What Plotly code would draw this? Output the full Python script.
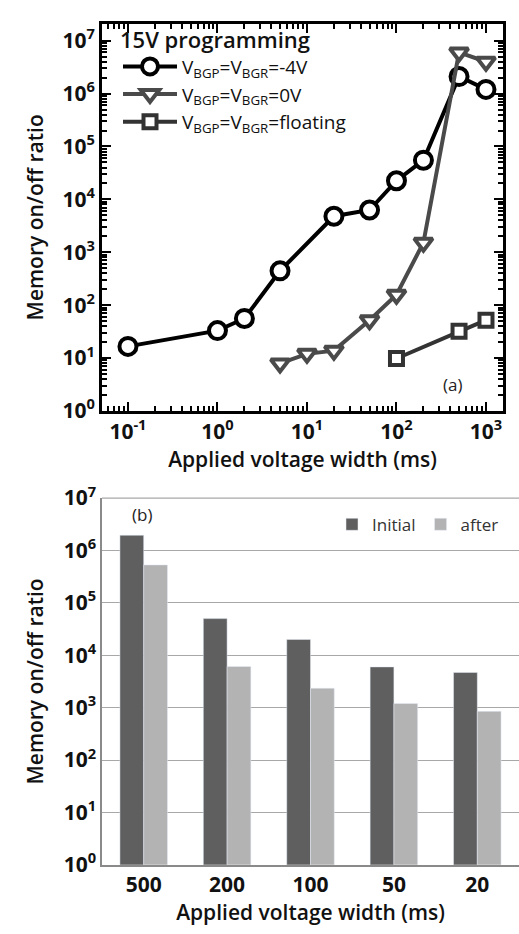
import plotly.graph_objects as go

# ---- data: panel (a)
x_m4 = [0.1, 1, 2, 5, 20, 50, 100, 200, 500, 1000]
y_m4 = [16.6, 33, 56, 445, 4800, 6300, 22500, 55000, 2.1e6, 1.2e6]
x_0v = [5, 10, 20, 50, 100, 200, 500, 1000]
y_0v = [7.9, 12, 13.8, 52, 157, 1520, 6.0e6, 4.0e6]
x_fl = [100, 500, 1000]
y_fl = [9.8, 32, 52]
names_a = ["V<sub>BGP</sub>=V<sub>BGR</sub>=-4V",
           "V<sub>BGP</sub>=V<sub>BGR</sub>=0V",
           "V<sub>BGP</sub>=V<sub>BGR</sub>=floating"]

# ---- data: panel (b)
widths_b = ["500", "200", "100", "50", "20"]
initial_b = [1.95e6, 5.0e4, 2.0e4, 6.0e3, 4.7e3]
after_b = [5.3e5, 6.1e3, 2.35e3, 1.2e3, 8.5e2]

# ticks
xa_tickvals = [0.1, 1, 10, 100, 1000]
xa_ticktext = ["10<sup>%s</sup>" % e for e in ["-1", "0", "1", "2", "3"]]
y_tickvals = [1, 10, 100, 1e3, 1e4, 1e5, 1e6, 1e7]
y_ticktext = ["10<sup>%d</sup>" % i for i in range(8)]

FONT = "Open Sans"
W, H = 519, 934

xa_minor = [m * 10 ** e for e in range(-2, 4) for m in range(2, 10)]
ya_minor = [m * 10 ** e for e in range(0, 8) for m in range(2, 10)]

fig = go.Figure()

fig.add_trace(go.Scatter(
    x=x_m4, y=y_m4, name=names_a[0], mode="lines+markers",
    line=dict(color="#000000", width=4),
    marker=dict(symbol="circle", size=17, color="white",
                line=dict(color="#000000", width=4)),
    xaxis="x", yaxis="y", legend="legend"))
fig.add_trace(go.Scatter(
    x=x_0v, y=y_0v, name=names_a[1], mode="lines+markers",
    line=dict(color="#4a4a4a", width=4),
    marker=dict(symbol="triangle-down", size=16, color="white",
                line=dict(color="#4a4a4a", width=4)),
    xaxis="x", yaxis="y", legend="legend"))
fig.add_trace(go.Scatter(
    x=x_fl, y=y_fl, name=names_a[2], mode="lines+markers",
    line=dict(color="#333333", width=4),
    marker=dict(symbol="square", size=13, color="white",
                line=dict(color="#333333", width=4)),
    xaxis="x", yaxis="y", legend="legend"))

fig.add_trace(go.Bar(
    x=widths_b, y=initial_b, name="Initial", marker_color="#5f5f5f",
    xaxis="x2", yaxis="y2", legend="legend2"))
fig.add_trace(go.Bar(
    x=widths_b, y=after_b, name="after", marker_color="#b3b3b3",
    xaxis="x2", yaxis="y2", legend="legend2"))

tickfont = dict(family=FONT, size=21, color="#111111", weight="bold")
titlefont = dict(family=FONT, size=21, color="#111111", weight=600)

fig.update_layout(
    width=W, height=H,
    margin=dict(l=0, r=0, t=0, b=0),
    paper_bgcolor="white", plot_bgcolor="white",
    barmode="group", bargap=0.43, bargroupgap=0,
    font=dict(family=FONT, color="#111111"),
    xaxis=dict(
        type="log", range=[-1.29, 3.19], domain=[102 / W, 503 / W],
        anchor="y", showline=True, linewidth=3, linecolor="black",
        mirror="allticks", ticks="inside", ticklen=9, tickwidth=2,
        tickcolor="black", tickvals=xa_tickvals, ticktext=xa_ticktext,
        tickfont=tickfont, showgrid=False, zeroline=False,
        minor=dict(tickvals=xa_minor, ticks="inside", ticklen=5,
                   tickwidth=2, tickcolor="black", showgrid=False),
        title=dict(text="Applied voltage width (ms)", font=titlefont, standoff=0),
    ),
    yaxis=dict(
        type="log", range=[0, 7.32], domain=[1 - 407 / H, 1 - 7 / H],
        anchor="x", showline=True, linewidth=3, linecolor="black",
        mirror="allticks", ticks="inside", ticklen=9, tickwidth=2,
        tickcolor="black", tickvals=y_tickvals, ticktext=y_ticktext,
        tickfont=tickfont, showgrid=False, zeroline=False,
        minor=dict(tickvals=ya_minor, ticks="inside", ticklen=5,
                   tickwidth=2, tickcolor="black", showgrid=False),
        title=dict(text="Memory on/off ratio", font=titlefont, standoff=14),
    ),
    xaxis2=dict(
        type="category", range=[-0.5, 4.5], domain=[102 / W, 1.0],
        anchor="y2", showline=True, linewidth=1.5, linecolor="#8a8a8a",
        ticks="", tickfont=tickfont, showgrid=False,
        title=dict(text="Applied voltage width (ms)", font=titlefont, standoff=0),
    ),
    yaxis2=dict(
        type="log", range=[0, 7], domain=[1 - 876 / H, 1 - 497 / H],
        anchor="x2", showline=True, linewidth=1.5, linecolor="#8a8a8a",
        ticks="", tickvals=y_tickvals, ticktext=y_ticktext,
        tickfont=tickfont, showgrid=True, gridcolor="#a8a8a8", gridwidth=1.2,
        zeroline=False,
        title=dict(text="Memory on/off ratio", font=titlefont, standoff=14),
    ),
    legend=dict(
        x=118 / W, y=1 - 2 / H, xanchor="left", yanchor="top",
        bgcolor="rgba(0,0,0,0)", itemwidth=54, tracegroupgap=0,
        font=dict(family=FONT, size=19, color="#111111"),
        title=dict(text="15V programming", font=dict(family=FONT, size=22, color="#111111", weight=600)),
        itemsizing="trace",
    ),
    legend2=dict(
        x=504 / W, y=1 - 506 / H, xanchor="right", yanchor="top",
        orientation="h", bgcolor="rgba(0,0,0,0)", itemwidth=30,
        font=dict(family=FONT, size=17, color="#333333"),
    ),
    shapes=[
        dict(type="line", xref="x2 domain", yref="y2 domain",
             x0=0, x1=1, y0=1, y1=1, line=dict(color="#a8a8a8", width=1.2)),
    ],
    annotations=[
        dict(text="(a)", x=464 / W, y=1 - 380 / H, xref="paper", yref="paper",
             showarrow=False, font=dict(family=FONT, size=17, color="#222222")),
        dict(text="(b)", x=130 / W, y=1 - 514 / H, xref="paper", yref="paper",
             showarrow=False, font=dict(family=FONT, size=17, color="#222222")),
    ],
)

fig.write_html("out.html")
